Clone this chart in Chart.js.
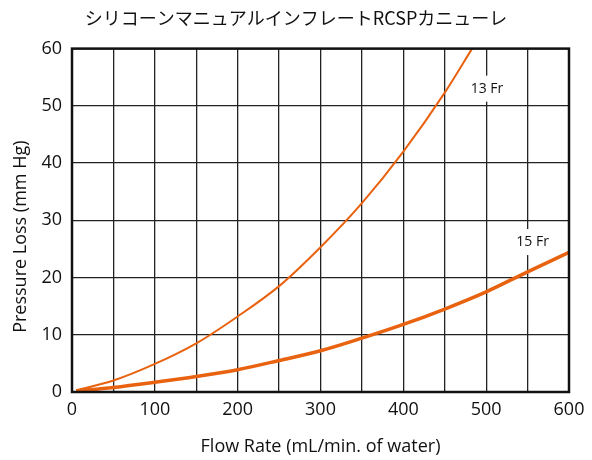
<!DOCTYPE html>
<html>
<head>
<meta charset="utf-8">
<script src="https://cdn.jsdelivr.net/npm/chart.js@4"></script>
<style>
  html, body { margin: 0; padding: 0; background: #fff; }
  #wrap { width: 592px; height: 460px; }
</style>
</head>
<body>
<div id="wrap"><canvas id="chart"></canvas></div>
<script>
const chartTitle = "シリコーンマニュアルインフレートRCSPカニューレ";
const xTitle = "Flow Rate (mL/min. of water)";
const yTitle = "Pressure Loss (mm Hg)";

const flow13 = [5, 50, 100, 150, 200, 250, 300, 350, 400, 450, 483];
const loss13 = [0.3, 2.0, 4.9, 8.5, 13.2, 18.5, 25.3, 33.0, 42.0, 52.3, 60];
const flow15 = [5, 50, 100, 150, 200, 250, 300, 350, 400, 450, 500, 550, 600];
const loss15 = [0.2, 0.8, 1.7, 2.7, 3.9, 5.5, 7.2, 9.4, 11.8, 14.5, 17.5, 21.0, 24.4];

const seriesLabels = ["13 Fr", "15 Fr"];
const labelAnchors = [{ x: 501, y: 53 }, { x: 556, y: 26.2 }];

const orange = "#e8620f";
const fontFamily = "'Open Sans', 'Noto Sans', sans-serif";

function toPoints(xs, ys) {
  return xs.map(function (x, i) { return { x: x, y: ys[i] }; });
}

// white-backed curve names + heavy frame around the plot
const curveLabels = {
  id: "curveLabels",
  afterDatasetsDraw: function (chart) {
    const ctx = chart.ctx;
    const xs = chart.scales.x, ys = chart.scales.y;
    const a = chart.chartArea;
    ctx.save();
    ctx.strokeStyle = "#111";
    ctx.lineWidth = 2.5;
    ctx.strokeRect(a.left, a.top, a.right - a.left, a.bottom - a.top);
    ctx.font = "14px " + fontFamily;
    ctx.textAlign = "center";
    ctx.textBaseline = "middle";
    seriesLabels.forEach(function (text, i) {
      const px = xs.getPixelForValue(labelAnchors[i].x);
      const py = ys.getPixelForValue(labelAnchors[i].y);
      const w = ctx.measureText(text).width + 4;
      ctx.fillStyle = "#fff";
      ctx.fillRect(px - w / 2, py - 13, w, 26);
      ctx.fillStyle = "#111";
      ctx.fillText(text, px, py);
    });
    ctx.restore();
  }
};

new Chart(document.getElementById("chart").getContext("2d"), {
  type: "line",
  data: {
    datasets: [
      {
        label: seriesLabels[0],
        data: toPoints(flow13, loss13),
        borderColor: orange,
        borderWidth: 2,
        pointRadius: 0,
        cubicInterpolationMode: "monotone",
        fill: false,
      },
      {
        label: seriesLabels[1],
        data: toPoints(flow15, loss15),
        borderColor: orange,
        borderWidth: 3.5,
        pointRadius: 0,
        cubicInterpolationMode: "monotone",
        fill: false,
      },
    ],
  },
  options: {
    responsive: true,
    maintainAspectRatio: false,
    animation: false,
    layout: { padding: 0 },
    plugins: {
      legend: { display: false },
      tooltip: { enabled: false },
      title: {
        display: true,
        text: chartTitle,
        color: "#111",
        font: { family: "'Noto Sans CJK JP', " + fontFamily, size: 18, weight: "normal" },
        padding: { top: 7, bottom: 20 },
      },
    },
    scales: {
      x: {
        type: "linear",
        min: 0,
        max: 600,
        border: { display: false },
        grid: { color: "#222", lineWidth: 1.3, drawTicks: false },
        ticks: {
          stepSize: 50,
          color: "#111",
          padding: 7,
          maxRotation: 0,
          font: { family: fontFamily, size: 18 },
          callback: function (v) { return v % 100 === 0 ? v : ""; },
        },
        title: {
          display: true,
          text: xTitle,
          color: "#111",
          font: { family: fontFamily, size: 18 },
          padding: { top: 6, bottom: 2 },
        },
        afterFit: function (scale) { scale.height = 68; },
      },
      y: {
        min: 0,
        max: 60,
        border: { display: false },
        grid: { color: "#222", lineWidth: 1.3, drawTicks: false },
        ticks: {
          stepSize: 10,
          color: "#111",
          padding: 10,
          font: { family: fontFamily, size: 18 },
        },
        title: {
          display: true,
          // trailing spaces nudge the rotated title down like the original
          text: yTitle + "       ",
          color: "#111",
          font: { family: fontFamily, size: 18 },
          padding: { top: 10, bottom: 0 },
        },
        afterFit: function (scale) { scale.width = 72; },
      },
      // empty right gutter so the chart title stays centred on the page
      gutter: {
        type: "linear",
        position: "right",
        display: true,
        border: { display: false },
        grid: { display: false },
        ticks: { display: false },
        afterFit: function (scale) { scale.width = 23; },
      },
    },
  },
  plugins: [curveLabels],
});
</script>
</body>
</html>
